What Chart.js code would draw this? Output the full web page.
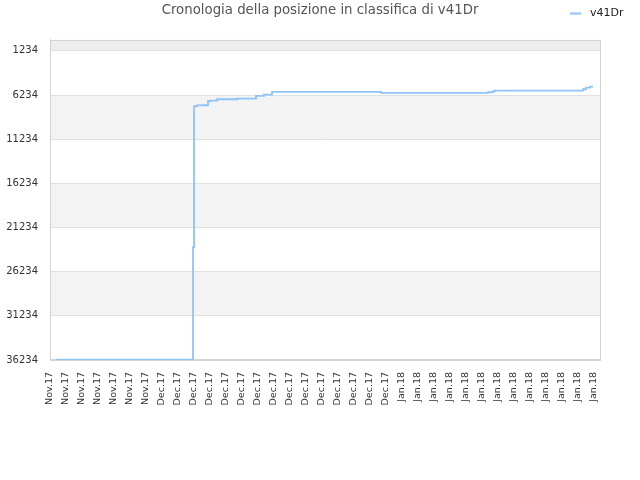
<!DOCTYPE html>
<html>
<head>
<meta charset="utf-8">
<script src="https://cdn.jsdelivr.net/npm/chart.js@4.4.1/dist/chart.umd.min.js"></script>
<style>
  html, body { margin: 0; padding: 0; background: #fff; }
  #wrap { width: 640px; height: 480px; }
</style>
</head>
<body>
<div id="wrap"><canvas id="chart" width="640" height="480"></canvas></div>
<script>
// days counted from Nov 18, 2017; ranks
var days = [0.75, 17.88, 18.0, 18.38, 19.0, 19.75, 20.0, 20.88, 23.38, 25.75,
            26.75, 27.75, 41.38, 54.75, 55.38, 55.62, 66.62, 67.0, 67.5, 67.88];
var ranks = [36200, 23440, 7507, 7417, 7394, 6941, 6873, 6715, 6647, 6320,
             6194, 5888, 6001, 5922, 5809, 5740, 5582, 5401, 5288, 5288];

var tickLabels = [
  'Nov.17', 'Nov.17', 'Nov.17', 'Nov.17', 'Nov.17', 'Nov.17', 'Nov.17',
  'Dec.17', 'Dec.17', 'Dec.17', 'Dec.17', 'Dec.17', 'Dec.17', 'Dec.17', 'Dec.17',
  'Dec.17', 'Dec.17', 'Dec.17', 'Dec.17', 'Dec.17', 'Dec.17', 'Dec.17',
  'Jan.18', 'Jan.18', 'Jan.18', 'Jan.18', 'Jan.18', 'Jan.18', 'Jan.18',
  'Jan.18', 'Jan.18', 'Jan.18', 'Jan.18', 'Jan.18', 'Jan.18'
];
var rankTicks = [1234, 6234, 11234, 16234, 21234, 26234, 31234, 36234];

var lineColor = 'rgb(144,195,245)';

// alternate grey / white bands between the rank ticks, plus the frame
var bands = {
  id: 'bands',
  beforeDraw: function (chart) {
    var ctx = chart.ctx,
        area = chart.chartArea,
        y = chart.scales.y,
        edges = [y.min].concat(rankTicks);

    ctx.save();
    for (var i = 0; i < edges.length - 1; i++) {
      var top = y.getPixelForValue(edges[i]),
          bottom = y.getPixelForValue(edges[i + 1]),
          fromBottom = edges.length - 2 - i;
      if (i === 0) {
        ctx.fillStyle = '#eeeeee';
      } else if (fromBottom % 2 === 1) {
        ctx.fillStyle = '#f3f3f3';
      } else {
        continue;
      }
      ctx.fillRect(area.left, top, area.right - area.left, bottom - top);
    }
    ctx.strokeStyle = '#d4d4d4';
    ctx.lineWidth = 1;
    ctx.strokeRect(area.left + 0.5, area.top + 0.5, area.right - area.left, area.bottom - area.top);
    ctx.restore();
  }
};

// legend in the top right corner, on the title line
var cornerLegend = {
  id: 'cornerLegend',
  afterDraw: function (chart) {
    var ctx = chart.ctx,
        ds = chart.data.datasets[0];
    ctx.save();
    ctx.strokeStyle = ds.borderColor;
    ctx.lineWidth = 2;
    ctx.beginPath();
    ctx.moveTo(570, 13.5);
    ctx.lineTo(581, 13.5);
    ctx.stroke();
    ctx.fillStyle = '#222';
    ctx.font = '11px "DejaVu Sans"';
    ctx.textBaseline = 'middle';
    ctx.textAlign = 'left';
    ctx.fillText(ds.label, 590, 13);
    ctx.restore();
  }
};

new Chart(document.getElementById('chart'), {
  type: 'line',
  data: {
    datasets: [{
      label: 'v41Dr',
      data: days.map(function (d, i) { return { x: d, y: ranks[i] }; }),
      borderColor: lineColor,
      backgroundColor: lineColor,
      borderWidth: 1.8,
      pointRadius: 0,
      stepped: true,
      fill: false
    }]
  },
  options: {
    responsive: false,
    animation: false,
    layout: { padding: 0 },
    plugins: {
      legend: { display: false },
      tooltip: { enabled: false },
      title: {
        display: true,
        text: 'Cronologia della posizione in classifica di v41Dr',
        color: '#555',
        font: { family: 'DejaVu Sans', size: 13.3, weight: 'normal' },
        padding: { top: 3, bottom: 21 }
      }
    },
    scales: {
      x: {
        type: 'linear',
        min: 0,
        max: 68.75,
        afterBuildTicks: function (scale) {
          scale.ticks = tickLabels.map(function (_, i) { return { value: i * 2 }; });
        },
        afterFit: function (scale) { scale.height = 120; },
        grid: { display: false, drawTicks: false },
        border: { display: true, color: '#d4d4d4' },
        ticks: {
          autoSkip: false,
          maxRotation: 90,
          minRotation: 90,
          padding: 12,
          color: '#333',
          font: { family: 'DejaVu Sans', size: 9.5 },
          callback: function (v, i) { return tickLabels[i]; }
        }
      },
      y: {
        type: 'linear',
        reverse: true,
        min: 0,
        max: 36234,
        afterBuildTicks: function (scale) {
          scale.ticks = rankTicks.map(function (v) { return { value: v }; });
        },
        afterFit: function (scale) { scale.width = 50; },
        grid: { color: '#e0e0e0', drawTicks: false },
        border: { display: true, color: '#d4d4d4' },
        ticks: {
          padding: 12,
          color: '#333',
          font: { family: 'DejaVu Sans', size: 10 },
          callback: function (v) { return String(v); }
        }
      },
      // empty right-hand gutter so the title stays centred on the page
      gutter: {
        type: 'linear',
        position: 'right',
        display: true,
        grid: { display: false, drawTicks: false },
        border: { display: false },
        ticks: { display: false },
        afterFit: function (scale) { scale.width = 40; }
      }
    }
  },
  plugins: [bands, cornerLegend]
});
</script>
</body>
</html>
